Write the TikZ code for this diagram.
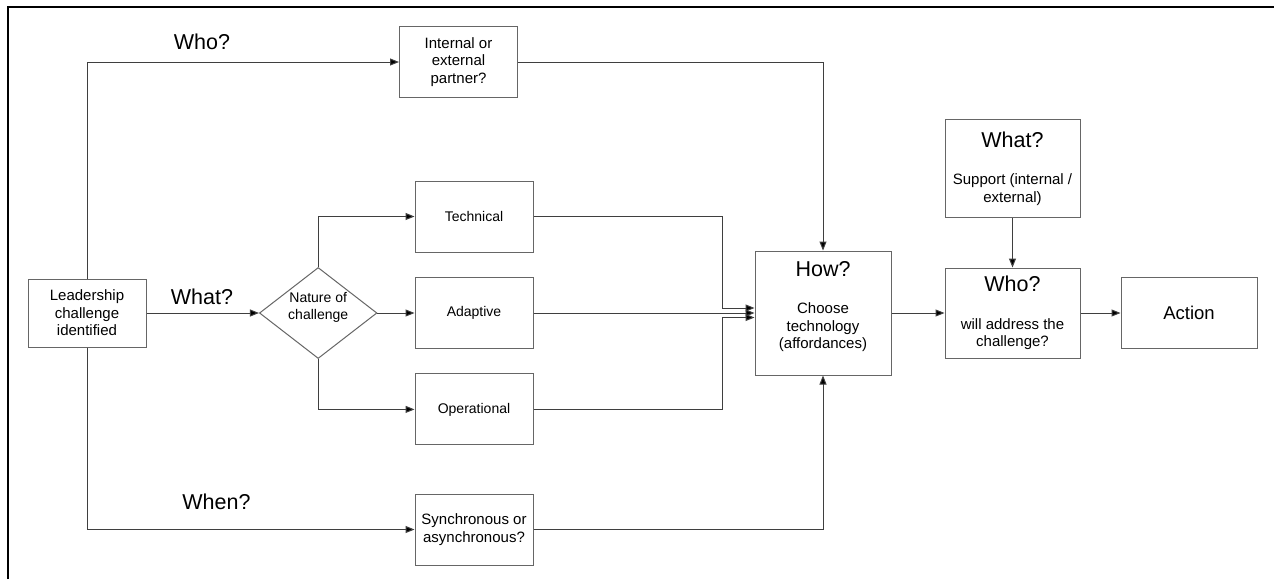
\documentclass[tikz,border=0pt]{standalone}
\usepackage{fontspec}
\setmainfont{Liberation Sans}
\usetikzlibrary{arrows.meta,shapes.geometric}
\newcommand\bigq{\fontsize{21.5}{25}\selectfont}
\newcommand\smallt{\fontsize{15}{17.5}\selectfont}
\newcommand\midt{\fontsize{14}{16.5}\selectfont}
\newcommand\actt{\fontsize{18.5}{22}\selectfont}
\definecolor{boxgray}{HTML}{666666}
\definecolor{linegray}{HTML}{3F3F3F}
\begin{document}
\begin{tikzpicture}[x=1pt,y=-1pt,
  mybox/.style={draw=boxgray, line width=1pt, inner sep=0pt, align=center, font=\smallt},
  conn/.style={draw=linegray, line width=1pt, -{Triangle[length=9pt,width=7pt,fill=black]}},
  qlabel/.style={font=\bigq, inner sep=0pt}]
\useasboundingbox (0,0) rectangle (1274,579);
\fill[white] (0,0) rectangle (1274,579);
\draw[line width=2pt, black] (8.3,579) -- (8.3,7.3) -- (1274,7.3);

% nodes
\node[mybox, minimum width=118pt, minimum height=71.5pt] (int) at (458.5,62) {Internal or\\external\\partner?};
\node[mybox, minimum width=118pt, minimum height=68pt] (lead) at (87,313) {Leadership\\challenge\\identified};
\node[draw=boxgray, line width=1pt, diamond, minimum width=117.5pt, minimum height=91pt, inner sep=0pt,
  label={[font=\midt, align=center, yshift=5.5pt]center:{Nature of\\challenge}}] (nat) at (318.2,313) {};
\node[mybox, font=\midt, minimum width=118pt, minimum height=71pt] (tech) at (474,216.5) {Technical};
\node[mybox, font=\midt, minimum width=118pt, minimum height=71pt] (adap) at (474,313) {Adaptive};
\node[mybox, font=\midt, minimum width=118pt, minimum height=71pt] (oper) at (474,409.4) {Operational};
\node[mybox, minimum width=118pt, minimum height=71pt] (sync) at (474,529.5) {Synchronous or\\asynchronous?};
\node[mybox, minimum width=136pt, minimum height=124pt,
  label={[font=\smallt, align=center, yshift=6.5pt]center:{{\bigq How?}\\[20pt]Choose\\technology\\(affordances)}}] (how) at (823,313) {};
\node[mybox, minimum width=135pt, minimum height=98.5pt] (sup) at (1012.5,168.5) {{\bigq What?}\\[20pt]Support (internal /\\external)};
\node[mybox, minimum width=135pt, minimum height=90pt] (who) at (1012.5,313) {{\bigq Who?}\\[20pt]will address the\\challenge?};
\node[mybox, font=\actt, minimum width=136pt, minimum height=71pt] (act) at (1189,313) {Action};

% question labels
\node[qlabel] (lwho) at (202,41.7) {Who?};
\node[qlabel] (lwhat) at (202,297) {What?};
\node[qlabel] (lwhen) at (216.5,501.5) {When?};

% junctions
\coordinate (jt) at (722.7,308);
\coordinate (jo) at (722.7,317.5);

% connectors
\draw[conn] (lead.north) |- (int.west);
\draw[conn] (int.east) -| (how.north);
\draw[conn] (lead.east) -- (nat.west);
\draw[conn] (nat.north) |- (tech.west);
\draw[conn] (nat.east) -- (adap.west);
\draw[conn] (nat.south) |- (oper.west);
\draw[conn] (lead.south) |- (sync.west);
\draw[conn] (sync.east) -| (how.south);
\draw[conn] (tech.east) -| (jt) -- (jt -| how.west);
\draw[conn] (adap.east) -- (how.west);
\draw[conn] (oper.east) -| (jo) -- (jo -| how.west);
\draw[conn] (how.east) -- (who.west);
\draw[conn] (sup.south) -- (who.north);
\draw[conn] (who.east) -- (act.west);
\end{tikzpicture}
\end{document}
